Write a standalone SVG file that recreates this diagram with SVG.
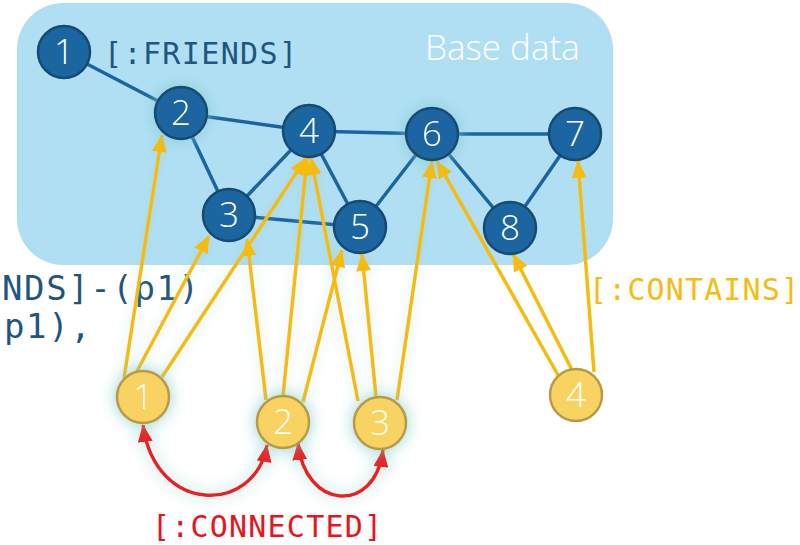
<svg xmlns="http://www.w3.org/2000/svg" width="800" height="545" viewBox="0 0 800 545">
  <style>
    .mono { font-family: "DejaVu Sans Mono", "Liberation Mono", monospace; font-size: 30px; }
    .code { fill: #1f5680; font-size: 34px; letter-spacing: 1.6px; }
    .friends { fill: #1f5680; }
    .contains { fill: #f5bc12; }
    .connected { fill: #e8141c; }
    .title { font-family: "Open Sans", "Liberation Sans", sans-serif; font-weight: 300; font-size: 35px; fill: #ffffff; }
    .num { font-family: "Open Sans", "Liberation Sans", sans-serif; font-weight: 300; font-size: 35px; fill: #ffffff; text-anchor: middle; }
    .base circle { fill: #1b65a1; stroke: #174a73; stroke-width: 2.5; }
    .pkg circle { fill: #f8d362; stroke: #b89a45; stroke-width: 2.5; }
    .edge { stroke: #1a64a0; stroke-width: 3.5; fill: none; }
    .contain { stroke: #f5bb0e; stroke-width: 3.5; fill: none; marker-end: url(#headY); }
    .link { stroke: #e82222; stroke-width: 3.5; fill: none; marker-start: url(#headR); marker-end: url(#headR); }
  </style>
  <defs>
    <marker id="headY" viewBox="0 0 18 15" refX="17" refY="7.5" markerWidth="18" markerHeight="15" markerUnits="userSpaceOnUse" orient="auto">
      <path d="M0,0 L18,7.5 L0,15 z" fill="#f5bb0e"/>
    </marker>
    <marker id="headR" viewBox="0 0 18 15" refX="17" refY="7.5" markerWidth="18" markerHeight="15" markerUnits="userSpaceOnUse" orient="auto-start-reverse">
      <path d="M0,0 L18,7.5 L0,15 z" fill="#e82222"/>
    </marker>
    <filter id="glow" x="-60%" y="-60%" width="220%" height="220%">
      <feGaussianBlur in="SourceAlpha" stdDeviation="8" result="b"/>
      <feFlood flood-color="#7fcacb" flood-opacity="0.85"/>
      <feComposite in2="b" operator="in" result="halo"/>
      <feMerge>
        <feMergeNode in="halo"/>
        <feMergeNode in="SourceGraphic"/>
      </feMerge>
    </filter>
    <filter id="haze" x="-60%" y="-20%" width="220%" height="140%">
      <feGaussianBlur in="SourceAlpha" stdDeviation="6" result="b"/>
      <feFlood flood-color="#8fd0d0" flood-opacity="0.45"/>
      <feComposite in2="b" operator="in" result="halo"/>
      <feMerge>
        <feMergeNode in="halo"/>
        <feMergeNode in="SourceGraphic"/>
      </feMerge>
    </filter>
  </defs>

  <rect id="base-area" x="17" y="3" width="596" height="262" rx="46" fill="#b0dff3"/>
  <text class="title" x="425" y="60">Base data</text>

  <text class="mono friends" x="104" y="64" textLength="193" lengthAdjust="spacing">[:FRIENDS]</text>
  <text class="mono contains" x="589" y="300" textLength="210" lengthAdjust="spacing">[:CONTAINS]</text>
  <text class="mono connected" x="152" y="537" textLength="230" lengthAdjust="spacing">[:CONNECTED]</text>

  <text class="mono code" x="2" y="300">NDS]-(p1)</text>
  <text class="mono code" x="4" y="338">p1),</text>

  <g id="connectors">
    <g id="friends-edges">
      <line class="edge" x1="64" y1="52" x2="181" y2="113"/>
      <line class="edge" x1="181" y1="113" x2="309" y2="131"/>
      <line class="edge" x1="181" y1="113" x2="229" y2="215"/>
      <line class="edge" x1="229" y1="215" x2="309" y2="131"/>
      <line class="edge" x1="229" y1="215" x2="360" y2="227"/>
      <line class="edge" x1="309" y1="131" x2="360" y2="227"/>
      <line class="edge" x1="309" y1="131" x2="432" y2="134"/>
      <line class="edge" x1="360" y1="227" x2="432" y2="134"/>
      <line class="edge" x1="432" y1="134" x2="575" y2="134"/>
      <line class="edge" x1="432" y1="134" x2="510" y2="228"/>
      <line class="edge" x1="575" y1="134" x2="510" y2="228"/>
    </g>
    <g id="contains-edges">
      <g filter="url(#haze)">
        <line class="contain" x1="124" y1="378" x2="162" y2="135"/>
        <line class="contain" x1="136" y1="373" x2="209" y2="236"/>
        <line class="contain" x1="162" y1="377" x2="306" y2="158"/>
        <line class="contain" x1="266" y1="400" x2="247" y2="239"/>
        <line class="contain" x1="283" y1="396" x2="307" y2="158"/>
        <line class="contain" x1="303" y1="402" x2="342" y2="250"/>
        <line class="contain" x1="358" y1="401" x2="311" y2="158"/>
        <line class="contain" x1="376" y1="397" x2="362" y2="254"/>
        <line class="contain" x1="397" y1="400" x2="432" y2="161"/>
      </g>
      <line class="contain" x1="558" y1="375" x2="437" y2="161"/>
      <line class="contain" x1="572" y1="370" x2="513" y2="254"/>
      <line class="contain" x1="594" y1="372" x2="578" y2="161"/>
    </g>
    <g id="connected-edges" filter="url(#glow)">
      <path class="link" d="M143,425 C155,515 255,515 267,445"/>
      <path class="link" d="M298,443 C305,510 375,515 383,450"/>
    </g>
  </g>

  <g id="n1" class="base"><circle cx="64" cy="52" r="26"/><text class="num" x="64" y="64">1</text></g>
  <g id="n2" class="base" filter="url(#glow)"><circle cx="181" cy="113" r="26"/><text class="num" x="181" y="125">2</text></g>
  <g id="n3" class="base"><circle cx="229" cy="215" r="26"/><text class="num" x="229" y="227">3</text></g>
  <g id="n4" class="base"><circle cx="309" cy="131" r="26"/><text class="num" x="309" y="143">4</text></g>
  <g id="n5" class="base"><circle cx="360" cy="227" r="26"/><text class="num" x="360" y="239">5</text></g>
  <g id="n6" class="base" filter="url(#glow)"><circle cx="432" cy="134" r="26"/><text class="num" x="432" y="146">6</text></g>
  <g id="n7" class="base"><circle cx="575" cy="134" r="26"/><text class="num" x="575" y="146">7</text></g>
  <g id="n8" class="base"><circle cx="510" cy="228" r="26"/><text class="num" x="510" y="240">8</text></g>

  <g id="p1" class="pkg" filter="url(#glow)"><circle cx="143" cy="397" r="26"/><text class="num" x="143" y="409">1</text></g>
  <g id="p2" class="pkg" filter="url(#glow)"><circle cx="283" cy="422" r="26"/><text class="num" x="283" y="434">2</text></g>
  <g id="p3" class="pkg" filter="url(#glow)"><circle cx="380" cy="423" r="26"/><text class="num" x="380" y="435">3</text></g>
  <g id="p4" class="pkg"><circle cx="576" cy="395" r="26"/><text class="num" x="576" y="407">4</text></g>
</svg>
